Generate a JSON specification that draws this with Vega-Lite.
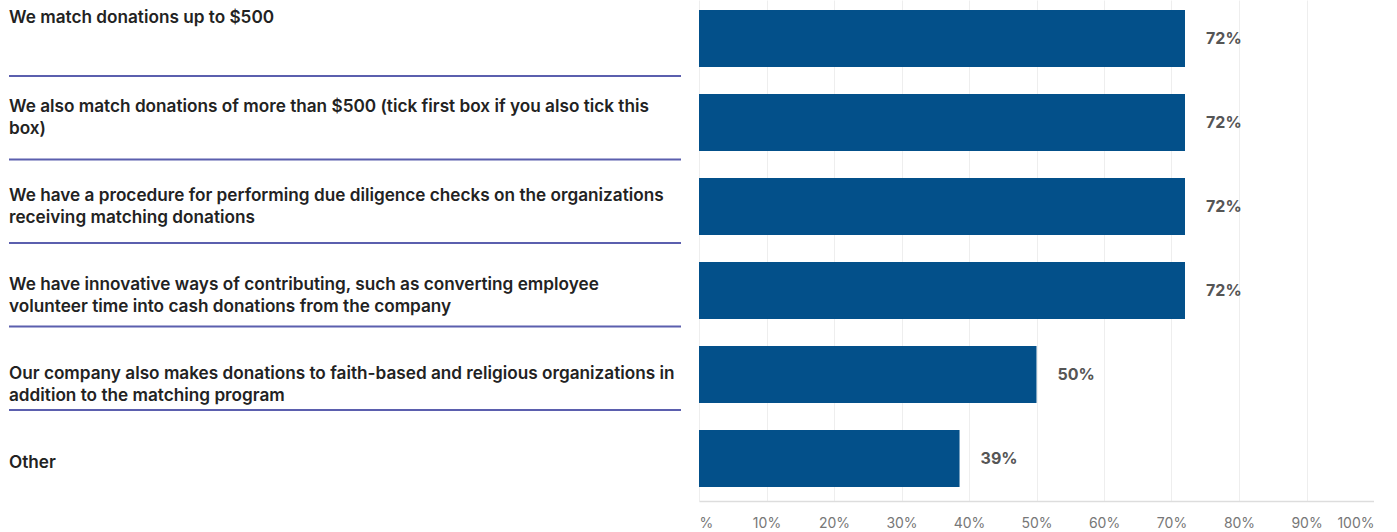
{
  "$schema": "https://vega.github.io/schema/vega-lite/v6.json",
  "padding": {"left": 8, "top": 0, "right": 0, "bottom": 0},
  "background": "white",
  "config": {"view": {"stroke": null}, "font": "Inter"},
  "data": {"values": [
    {"label": "We match donations up to $500", "lines": ["We match donations up to $500"], "value": 0.72},
    {"label": "We also match donations of more than $500 (tick first box if you also tick this box)", "lines": ["We also match donations of more than $500 (tick first box if you also tick this", "box)"], "value": 0.72},
    {"label": "We have a procedure for performing due diligence checks on the organizations receiving matching donations", "lines": ["We have a procedure for performing due diligence checks on the organizations", "receiving matching donations"], "value": 0.72},
    {"label": "We have innovative ways of contributing, such as converting employee volunteer time into cash donations from the company", "lines": ["We have innovative ways of contributing, such as converting employee", "volunteer time into cash donations from the company"], "value": 0.72},
    {"label": "Our company also makes donations to faith-based and religious organizations in addition to the matching program", "lines": ["Our company also makes donations to faith-based and religious organizations in", "addition to the matching program"], "value": 0.5},
    {"label": "Other", "lines": ["Other"], "value": 0.386}
  ]},
  "spacing": 17,
  "hconcat": [
    {
      "width": 672,
      "height": 501,
      "resolve": {"scale": {"y": "independent"}},
      "layer": [
        {
          "mark": {"type": "text", "align": "left", "baseline": "middle", "font": "Inter", "fontSize": 17.2, "fontWeight": 600, "color": "#222222", "lineHeight": 22},
          "encoding": {
            "y": {"field": "label", "type": "ordinal", "sort": null, "axis": null,
                  "scale": {"type": "point", "padding": 0.3146, "align": 0.321}},
            "x": {"datum": 0, "type": "quantitative", "scale": {"domain": [0, 1]}, "axis": null},
            "text": {"field": "lines"}
          }
        },
        {
          "transform": [{"filter": "datum.label != 'Other'"}],
          "mark": {"type": "rule", "color": "#5b5fae", "strokeWidth": 2},
          "encoding": {
            "y": {"field": "label", "type": "ordinal", "sort": null, "axis": null,
                  "scale": {"type": "point", "padding": 1.027, "align": 0.455}},
            "x": {"datum": 0, "type": "quantitative"},
            "x2": {"datum": 1}
          }
        }
      ]
    },
    {
      "width": 675,
      "height": 501,
      "encoding": {
        "y": {"field": "label", "type": "nominal", "sort": null, "axis": null,
              "scale": {"paddingInner": 0.3214, "paddingOuter": 0.1428, "align": 0.42}},
        "x": {"field": "value", "type": "quantitative",
              "scale": {"domain": [0, 1], "nice": false},
              "axis": {"title": null, "format": ".0%", "values": [0, 0.1, 0.2, 0.3, 0.4, 0.5, 0.6, 0.7, 0.8, 0.9, 1],
                       "labelExpr": "datum.value == 0 ? '%' : datum.label",
                       "grid": true, "gridColor": "#eeeeee", "gridWidth": 1,
                       "domainColor": "#dddddd", "domainWidth": 1.5, "ticks": false,
                       "labelPadding": 15, "labelFont": "Inter", "labelFontSize": 14, "labelColor": "#777777"}}
      },
      "layer": [
        {"mark": {"type": "bar", "color": "#03508a"}},
        {"mark": {"type": "text", "align": "left", "baseline": "middle", "dx": 21, "font": "Inter", "fontSize": 16, "fontWeight": 700, "color": "#555555"},
         "encoding": {"text": {"field": "value", "type": "quantitative", "format": ".0%"}}}
      ]
    }
  ]
}
